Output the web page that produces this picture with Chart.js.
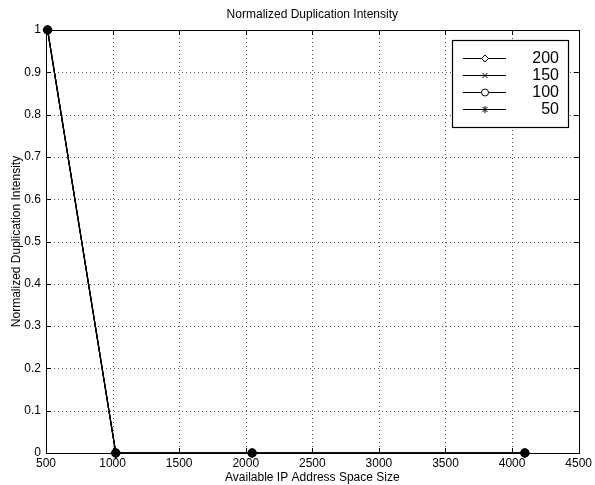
<!DOCTYPE html>
<html>
<head>
<meta charset="utf-8">
<script src="https://cdn.jsdelivr.net/npm/chart.js@4/dist/chart.umd.min.js"></script>
<style>
html,body{margin:0;padding:0;background:#fff;}
#wrap{width:595px;height:485px;}
</style>
</head>
<body>
<div id="wrap"><canvas id="c" width="595" height="485"></canvas></div>
<script>
const chartTitle = "Normalized Duplication Intensity";
const xTitle = "Available IP Address Space Size";
const yTitle = "Normalized Duplication Intensity";
const xValues = [512, 1024, 2048, 4096];
const seriesLabels = ["200", "150", "100", "50"];
const series200 = [1, 0, 0, 0];
const series150 = [1, 0, 0, 0];
const series100 = [1, 0, 0, 0];
const series50 = [1, 0, 0, 0];
const pointStyles = ["rectRot", "crossRot", "circle", "star"];
const xMin = 500, xMax = 4500, xStep = 500;
const yMin = 0, yMax = 1, yStep = 0.1;

const allSeries = [series200, series150, series100, series50];
const FONT = "'Liberation Sans', Arial, Helvetica, sans-serif";

const datasets = allSeries.map((vals, i) => ({
  label: seriesLabels[i],
  data: xValues.map((x, j) => ({x: x, y: vals[j]})),
  borderColor: '#000',
  backgroundColor: 'rgba(0,0,0,0)',
  borderWidth: 1.2,
  pointStyle: pointStyles[i],
  pointRadius: 4,
  pointBorderColor: '#000',
  pointBackgroundColor: 'rgba(0,0,0,0)',
  pointBorderWidth: 1.5,
  tension: 0,
  clip: 12
}));

const gridPlugin = {
  id: 'dottedGrid',
  beforeDatasetsDraw(chart) {
    const ctx = chart.ctx, a = chart.chartArea;
    const xs = chart.scales.x, ys = chart.scales.y;
    ctx.save();
    ctx.fillStyle = '#555';
    xs.ticks.forEach(t => {
      const px = Math.round(xs.getPixelForValue(t.value));
      for (let y = Math.round(a.top); y <= a.bottom; y += 4) ctx.fillRect(px, y, 1, 1);
    });
    ys.ticks.forEach(t => {
      const py = Math.round(ys.getPixelForValue(t.value));
      for (let x = Math.round(a.left); x <= a.right; x += 4) ctx.fillRect(x, py, 1, 1);
    });
    ctx.restore();
  }
};

const frame = {
  id: 'frame',
  afterDraw(chart) {
    const ctx = chart.ctx, a = chart.chartArea;
    const xs = chart.scales.x, ys = chart.scales.y;
    ctx.save();
    // title centred over plot area
    ctx.fillStyle = '#000';
    ctx.font = "12px " + FONT;
    ctx.textAlign = 'center';
    ctx.textBaseline = 'middle';
    ctx.fillText(chartTitle, (a.left + a.right) / 2, 15);

    ctx.strokeStyle = '#000';
    ctx.lineWidth = 1;
    ctx.strokeRect(Math.round(a.left) + 0.5, Math.round(a.top) + 0.5, Math.round(a.right - a.left), Math.round(a.bottom - a.top));
    ctx.beginPath();
    const tl = 5;
    xs.ticks.forEach(t => {
      const px = Math.round(xs.getPixelForValue(t.value)) + 0.5;
      ctx.moveTo(px, a.bottom); ctx.lineTo(px, a.bottom - tl);
      ctx.moveTo(px, a.top); ctx.lineTo(px, a.top + tl);
    });
    ys.ticks.forEach(t => {
      const py = Math.round(ys.getPixelForValue(t.value)) + 0.5;
      ctx.moveTo(a.left, py); ctx.lineTo(a.left + tl, py);
      ctx.moveTo(a.right, py); ctx.lineTo(a.right - tl, py);
    });
    ctx.stroke();

    // legend box
    const bx = 452, by = 40, bw = 116, bh = 87;
    ctx.fillStyle = '#fff';
    ctx.fillRect(bx, by, bw, bh);
    ctx.lineWidth = 1.2;
    ctx.strokeRect(bx + 0.5, by + 0.5, bw, bh);
    const rows = [58, 75, 92, 109];
    ctx.font = "16px " + FONT;
    ctx.textAlign = 'right';
    ctx.textBaseline = 'middle';
    chart.data.datasets.forEach((ds, i) => {
      const y = rows[i];
      ctx.strokeStyle = '#000';
      ctx.lineWidth = 1;
      ctx.beginPath();
      ctx.moveTo(463, y + 0.5); ctx.lineTo(506, y + 0.5);
      ctx.stroke();
      ctx.fillStyle = '#fff';
      Chart.helpers.drawPoint(ctx, {
        pointStyle: ds.pointStyle, radius: 3.5, rotation: 0, borderWidth: 1
      }, 485, y + 0.5);
      ctx.fillStyle = '#000';
      ctx.fillText(ds.label, 559, y + 1);
    });
    ctx.restore();
  }
};

new Chart(document.getElementById('c'), {
  type: 'line',
  data: { datasets: datasets },
  options: {
    responsive: false,
    animation: false,
    devicePixelRatio: 1,
    layout: { padding: { top: 30, right: 14, bottom: 0, left: 9 } },
    plugins: {
      legend: { display: false },
      tooltip: { enabled: false },
      title: { display: false }
    },
    scales: {
      x: {
        type: 'linear',
        min: xMin, max: xMax,
        ticks: { stepSize: xStep, color: '#000', font: { family: FONT, size: 12 }, padding: 3, maxRotation: 0, autoSkip: false,
          callback: v => String(v) },
        grid: { display: false, drawTicks: false },
        border: { display: false },
        title: { display: true, text: xTitle, color: '#000', font: { family: FONT, size: 12 }, padding: { top: 0, bottom: 0 } },
        afterFit(s) { s.height = 32; }
      },
      y: {
        type: 'linear',
        min: yMin, max: yMax,
        ticks: { stepSize: yStep, color: '#000', font: { family: FONT, size: 12 }, padding: 5,
          callback: v => String(Math.round(v * 10) / 10) },
        grid: { display: false, drawTicks: false },
        border: { display: false },
        title: { display: true, text: yTitle, color: '#000', font: { family: FONT, size: 12 }, padding: { top: 0, bottom: 0 } },
        afterFit(s) { s.width = 37; }
      }
    }
  },
  plugins: [gridPlugin, frame]
});
</script>
</body>
</html>
